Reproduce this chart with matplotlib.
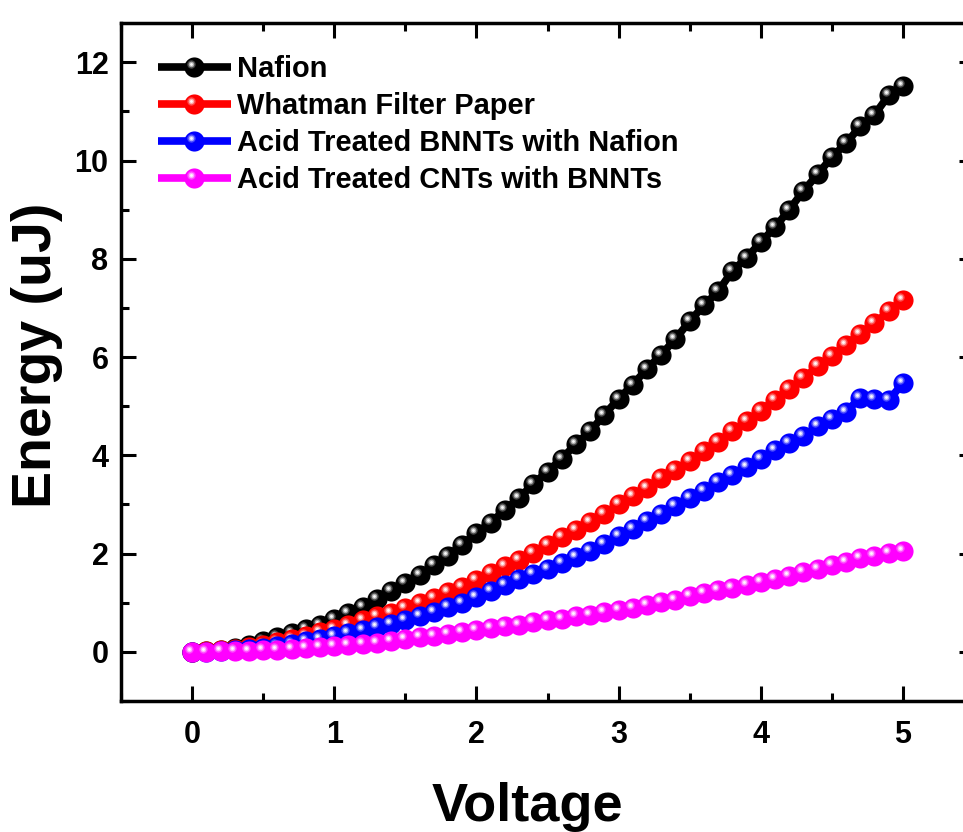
import matplotlib
matplotlib.use("Agg")
import matplotlib.pyplot as plt
from matplotlib.path import Path
from matplotlib.ticker import MultipleLocator
from matplotlib.legend_handler import HandlerTuple

voltage = [0.0, 0.1, 0.2, 0.3, 0.4, 0.5, 0.6, 0.7, 0.8, 0.9,
           1.0, 1.1, 1.2, 1.3, 1.4, 1.5, 1.6, 1.7, 1.8, 1.9,
           2.0, 2.1, 2.2, 2.3, 2.4, 2.5, 2.6, 2.7, 2.8, 2.9,
           3.0, 3.1, 3.2, 3.3, 3.4, 3.5, 3.6, 3.7, 3.8, 3.9,
           4.0, 4.1, 4.2, 4.3, 4.4, 4.5, 4.6, 4.7, 4.8, 4.9, 5.0]

nafion = [0.00, 0.01, 0.03, 0.07, 0.13, 0.22, 0.30, 0.38, 0.47, 0.55,
          0.66, 0.79, 0.92, 1.07, 1.23, 1.41, 1.57, 1.76, 1.96, 2.18,
          2.42, 2.63, 2.89, 3.13, 3.42, 3.67, 3.93, 4.23, 4.49, 4.83,
          5.15, 5.44, 5.76, 6.05, 6.37, 6.73, 7.05, 7.34, 7.75, 8.02,
          8.34, 8.64, 9.00, 9.38, 9.72, 10.07, 10.35, 10.70, 10.93, 11.33, 11.52]

whatman = [0.00, 0.01, 0.03, 0.06, 0.10, 0.15, 0.20, 0.26, 0.33, 0.40,
           0.47, 0.55, 0.64, 0.72, 0.80, 0.89, 0.99, 1.09, 1.21, 1.32,
           1.46, 1.60, 1.74, 1.87, 2.02, 2.18, 2.33, 2.49, 2.64, 2.81,
           3.00, 3.17, 3.34, 3.53, 3.71, 3.89, 4.08, 4.28, 4.49, 4.69,
           4.91, 5.13, 5.35, 5.57, 5.81, 6.02, 6.25, 6.48, 6.69, 6.93, 7.17]

bnnt_nafion = [0.00, 0.00, 0.01, 0.03, 0.05, 0.08, 0.12, 0.17, 0.22, 0.27,
               0.33, 0.38, 0.45, 0.50, 0.57, 0.64, 0.72, 0.82, 0.91, 1.00,
               1.11, 1.23, 1.36, 1.48, 1.58, 1.68, 1.80, 1.93, 2.06, 2.20,
               2.35, 2.51, 2.67, 2.81, 2.97, 3.13, 3.27, 3.45, 3.60, 3.77,
               3.93, 4.11, 4.25, 4.39, 4.59, 4.73, 4.89, 5.17, 5.15, 5.12, 5.47]

cnt_bnnt = [0.00, 0.00, 0.01, 0.01, 0.02, 0.03, 0.04, 0.06, 0.08, 0.09,
            0.11, 0.14, 0.16, 0.19, 0.23, 0.26, 0.30, 0.33, 0.36, 0.41,
            0.44, 0.48, 0.52, 0.55, 0.60, 0.64, 0.67, 0.72, 0.76, 0.81,
            0.86, 0.89, 0.95, 1.01, 1.06, 1.13, 1.19, 1.25, 1.30, 1.37,
            1.43, 1.48, 1.55, 1.62, 1.69, 1.76, 1.82, 1.91, 1.96, 2.01, 2.06]

labels = ["Nafion", "Whatman Filter Paper",
          "Acid Treated BNNTs with Nafion", "Acid Treated CNTs with BNNTs"]
series = [nafion, whatman, bnnt_nafion, cnt_bnnt]
colors = ["#000000", "#FF0000", "#0000FF", "#FF00FF"]

FONT = "Liberation Sans"
plt.rcParams["font.family"] = [FONT, "DejaVu Sans"]
plt.rcParams["font.weight"] = "bold"


def highlight_path(r, off=0.3):
    circ = Path.circle((-off, off), r)
    box = Path([[-1.0, -1.0], [1.0, 1.0]], [Path.MOVETO, Path.MOVETO])
    return Path.make_compound_path(circ, box)


hl_specs = [(highlight_path(0.42), 0.28),
            (highlight_path(0.28), 0.55),
            (highlight_path(0.14), 0.95)]

fig = plt.figure(figsize=(9.63, 8.32), dpi=100)
ax = fig.add_axes([121 / 963, 1 - 701 / 832, (974 - 121) / 963, (701 - 23) / 832])

MS = 14.5
handles = []
for vals, col, lab in zip(series, colors, labels):
    base, = ax.plot(voltage, vals, color=col, lw=5.5, marker="o", ms=MS,
                    mec=col, mfc=col, mew=0, solid_capstyle="butt")
    group = [base]
    for p, a in hl_specs:
        h, = ax.plot(voltage, vals, ls="none", marker=p, ms=MS,
                     mfc="white", mew=0, alpha=a)
        group.append(h)
    handles.append(tuple(group))

ax.set_xlim(-0.5, 5.5)
ax.set_ylim(-1, 12.8)
ax.xaxis.set_major_locator(MultipleLocator(1))
ax.xaxis.set_minor_locator(MultipleLocator(0.5))
ax.yaxis.set_major_locator(MultipleLocator(2))
ax.yaxis.set_minor_locator(MultipleLocator(1))

for s in ax.spines.values():
    s.set_linewidth(2.5)
ax.tick_params(which="both", direction="in", top=True, right=True, width=2.2)
ax.tick_params(which="major", length=10.5)
ax.tick_params(which="minor", length=5.5)
ax.tick_params(axis="x", which="major", pad=14, labelsize=22)
ax.tick_params(axis="y", which="major", pad=9, labelsize=22)
for t in ax.get_xticklabels() + ax.get_yticklabels():
    t.set_fontweight("bold")

ax.set_xlabel("Voltage", fontsize=39, fontweight="bold")
ax.set_ylabel("Energy (uJ)", fontsize=40, fontweight="bold")
ax.xaxis.set_label_coords(0.477, -0.119)
ax.yaxis.set_label_coords(-0.068, 0.51)

leg = ax.legend(handles, labels, loc="upper left",
                bbox_to_anchor=(158 / 963, 1 - 55 / 832),
                bbox_transform=fig.transFigure, frameon=False,
                numpoints=1, handlelength=2.5, handletextpad=0.22,
                labelspacing=0.31, borderpad=0, borderaxespad=0,
                prop={"family": FONT, "weight": "bold", "size": 20.9},
                handler_map={tuple: HandlerTuple(ndivide=1, pad=0)})

fig.savefig("out.png", dpi=100)
